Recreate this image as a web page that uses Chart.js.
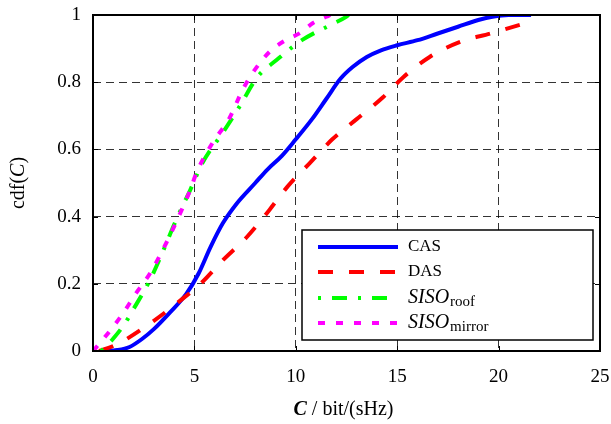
<html>

<head>
  <title>Capacity CDF</title>
  <style>
    body { margin: 0; background: #fff; }
    .canvas { width: 611px; height: 424px; position: relative; }
  </style>
  <script src="https://cdn.jsdelivr.net/npm/chart.js@4/dist/chart.umd.min.js"></script>
</head>

<body>
  <div class="canvas">
    <canvas id="chart"></canvas>
  </div>

  <script>
    const serif = '"Liberation Serif", "Times New Roman", serif';

    const xTicks = [0, 5, 10, 15, 20, 25];
    const yTicks = [0, 0.2, 0.4, 0.6, 0.8, 1];

    // capacity (bit/(sHz)) vs. cdf for each setup
    const casC = [0.5, 1.2, 1.8, 2.4, 3.0, 3.8, 4.6, 5.2, 5.8, 6.4, 7.1, 8, 8.6, 9.3, 10, 10.8, 11.5, 12.2, 12.8, 13.5, 14.2, 15, 16, 17, 18, 19, 19.7, 20.5, 21.6];
    const casCdf = [0, 0.003, 0.012, 0.035, 0.065, 0.115, 0.17, 0.23, 0.31, 0.38, 0.44, 0.5, 0.54, 0.58, 0.63, 0.69, 0.75, 0.81, 0.845, 0.875, 0.895, 0.91, 0.925, 0.945, 0.965, 0.985, 0.995, 1.0, 1.0];

    const dasC = [0.3, 1, 1.5, 3, 4.3, 5.3, 6.4, 7.6, 8.7, 9.6, 10.7, 11.8, 13, 14.3, 15.3, 16.6, 18.1, 19.6, 21, 21.6];
    const dasCdf = [0, 0.015, 0.03, 0.09, 0.15, 0.2, 0.27, 0.34, 0.42, 0.49, 0.56, 0.63, 0.69, 0.755, 0.815, 0.875, 0.92, 0.945, 0.97, 0.98];

    const roofC = [0.4, 0.97, 1.55, 1.95, 2.8, 3.4, 4.1, 4.8, 5.4, 6.4, 7.2, 8.1, 9.05, 10.3, 11.7, 12.5, 12.6];
    const roofCdf = [0, 0.035, 0.08, 0.12, 0.21, 0.29, 0.39, 0.48, 0.56, 0.65, 0.725, 0.815, 0.866, 0.925, 0.97, 0.995, 1.0];

    const mirrorC = [0, 0.57, 1.46, 2.1, 2.8, 3.6, 4.3, 4.8, 5.1, 5.9, 6.7, 7.4, 7.9, 8.7, 9.5, 10.2, 10.85, 11.5, 11.7];
    const mirrorCdf = [0, 0.04, 0.11, 0.17, 0.23, 0.32, 0.41, 0.48, 0.53, 0.62, 0.69, 0.78, 0.83, 0.89, 0.925, 0.946, 0.976, 0.995, 1.0];

    const pts = (xs, ys) => xs.map((x, i) => ({ x, y: ys[i] }));

    const series = [
      { name: 'CAS', data: pts(casC, casCdf), color: 'rgb(0,0,255)', dash: [], order: 4 },
      { name: 'DAS', data: pts(dasC, dasCdf), color: 'rgb(255,0,0)', dash: [15, 16], order: 3 },
      { name: 'SISO', sub: 'roof', data: pts(roofC, roofCdf), color: 'rgb(0,255,0)', dash: [3, 11, 15, 11], order: 2 },
      { name: 'SISO', sub: 'mirror', data: pts(mirrorC, mirrorCdf), color: 'rgb(255,0,255)', dash: [7, 11], order: 1 },
    ];

    const datasets = series.map(s => ({
      label: s.sub ? s.name + s.sub : s.name,
      data: s.data,
      borderColor: s.color,
      backgroundColor: s.color,
      borderWidth: 4,
      borderDash: s.dash,
      borderCapStyle: 'butt',
      pointRadius: 0,
      cubicInterpolationMode: 'monotone',
      fill: false,
      order: s.order,
    }));

    // box, inward ticks, axis titles and legend
    const frame = {
      id: 'frame',
      afterDraw(chart) {
        const { ctx, chartArea: a, scales } = chart;
        ctx.save();
        ctx.strokeStyle = '#000';
        ctx.lineWidth = 1;
        ctx.beginPath();
        xTicks.forEach(v => {
          const px = Math.round(scales.x.getPixelForValue(v)) + 0.5;
          ctx.moveTo(px, a.bottom); ctx.lineTo(px, a.bottom - 5);
          ctx.moveTo(px, a.top); ctx.lineTo(px, a.top + 5);
        });
        yTicks.forEach(v => {
          const py = Math.round(scales.y.getPixelForValue(v)) + 0.5;
          ctx.moveTo(a.left, py); ctx.lineTo(a.left + 5, py);
          ctx.moveTo(a.right, py); ctx.lineTo(a.right - 5, py);
        });
        ctx.stroke();
        ctx.lineWidth = 2;
        ctx.strokeRect(a.left, a.top, a.right - a.left, a.bottom - a.top);

        // x axis title
        ctx.fillStyle = '#000';
        ctx.textBaseline = 'alphabetic';
        ctx.textAlign = 'left';
        const t1 = 'C', t2 = ' / bit/(sHz)';
        ctx.font = 'italic bold 20px ' + serif;
        const w1 = ctx.measureText(t1).width;
        ctx.font = '20px ' + serif;
        const w2 = ctx.measureText(t2).width;
        let x0 = (a.left + a.right) / 2 - (w1 + w2) / 2 - 3;
        ctx.font = 'italic bold 20px ' + serif;
        ctx.fillText(t1, x0, 415);
        ctx.font = '20px ' + serif;
        ctx.fillText(t2, x0 + w1, 415);

        // y axis title
        ctx.save();
        ctx.translate(24, (a.top + a.bottom) / 2);
        ctx.rotate(-Math.PI / 2);
        const parts = [['cdf(', '20px '], ['C', 'italic 20px '], [')', '20px ']];
        let total = 0;
        parts.forEach(p => { ctx.font = p[1] + serif; total += ctx.measureText(p[0]).width; });
        let px = -total / 2;
        parts.forEach(p => {
          ctx.font = p[1] + serif;
          ctx.fillText(p[0], px, 0);
          px += ctx.measureText(p[0]).width;
        });
        ctx.restore();

        // legend
        const lx = 302, ly = 230, lw = 291, lh = 110;
        ctx.fillStyle = '#fff';
        ctx.fillRect(lx, ly, lw, lh);
        ctx.lineWidth = 1.5;
        ctx.strokeStyle = '#000';
        ctx.strokeRect(lx, ly, lw, lh);
        const rows = [247, 272, 298, 323];
        series.forEach((s, i) => {
          const y = rows[i];
          ctx.strokeStyle = s.color;
          ctx.lineWidth = 4;
          ctx.lineCap = 'butt';
          ctx.setLineDash(s.dash);
          ctx.beginPath();
          ctx.moveTo(318, y); ctx.lineTo(398, y);
          ctx.stroke();
          ctx.setLineDash([]);
          ctx.fillStyle = '#000';
          ctx.textBaseline = 'middle';
          if (s.sub) {
            ctx.font = 'italic 20px ' + serif;
            ctx.fillText(s.name, 408, y);
            const w = ctx.measureText(s.name).width;
            ctx.font = '15px ' + serif;
            ctx.fillText(s.sub, 408 + w + 1, y + 4);
          } else {
            ctx.font = '17px ' + serif;
            ctx.fillText(s.name, 408, y);
          }
        });
        ctx.restore();
      }
    };

    window.chartObj = new Chart(document.querySelector('canvas#chart'), {
      type: 'line',
      data: { datasets },
      plugins: [frame],
      options: {
        responsive: true,
        maintainAspectRatio: false,
        animation: false,
        layout: { padding: { top: 15, right: 11, left: 0, bottom: 0 } },
        plugins: { legend: { display: false }, tooltip: { enabled: false } },
        scales: {
          x: {
            type: 'linear',
            min: 0,
            max: 25,
            afterBuildTicks: s => { s.ticks = xTicks.map(value => ({ value })); },
            afterFit: s => { s.height = 73; s.paddingLeft = 0; s.paddingRight = 0; },
            grid: { color: 'rgba(0,0,0,0.8)', lineWidth: 1, drawTicks: false },
            border: { display: false, dash: [8, 5] },
            ticks: { color: '#000', font: { family: serif, size: 19 }, padding: 15, maxRotation: 0, callback: v => String(v) },
          },
          y: {
            type: 'linear',
            min: 0,
            max: 1,
            afterBuildTicks: s => { s.ticks = yTicks.map(value => ({ value })); },
            afterFit: s => { s.width = 93; s.paddingTop = 0; s.paddingBottom = 0; },
            grid: { color: 'rgba(0,0,0,0.8)', lineWidth: 1, drawTicks: false },
            border: { display: false, dash: [8, 5] },
            ticks: { color: '#000', font: { family: serif, size: 19 }, padding: 12, callback: v => String(+v.toFixed(1)) },
          },
        },
      },
    });
  </script>
</body>

</html>
